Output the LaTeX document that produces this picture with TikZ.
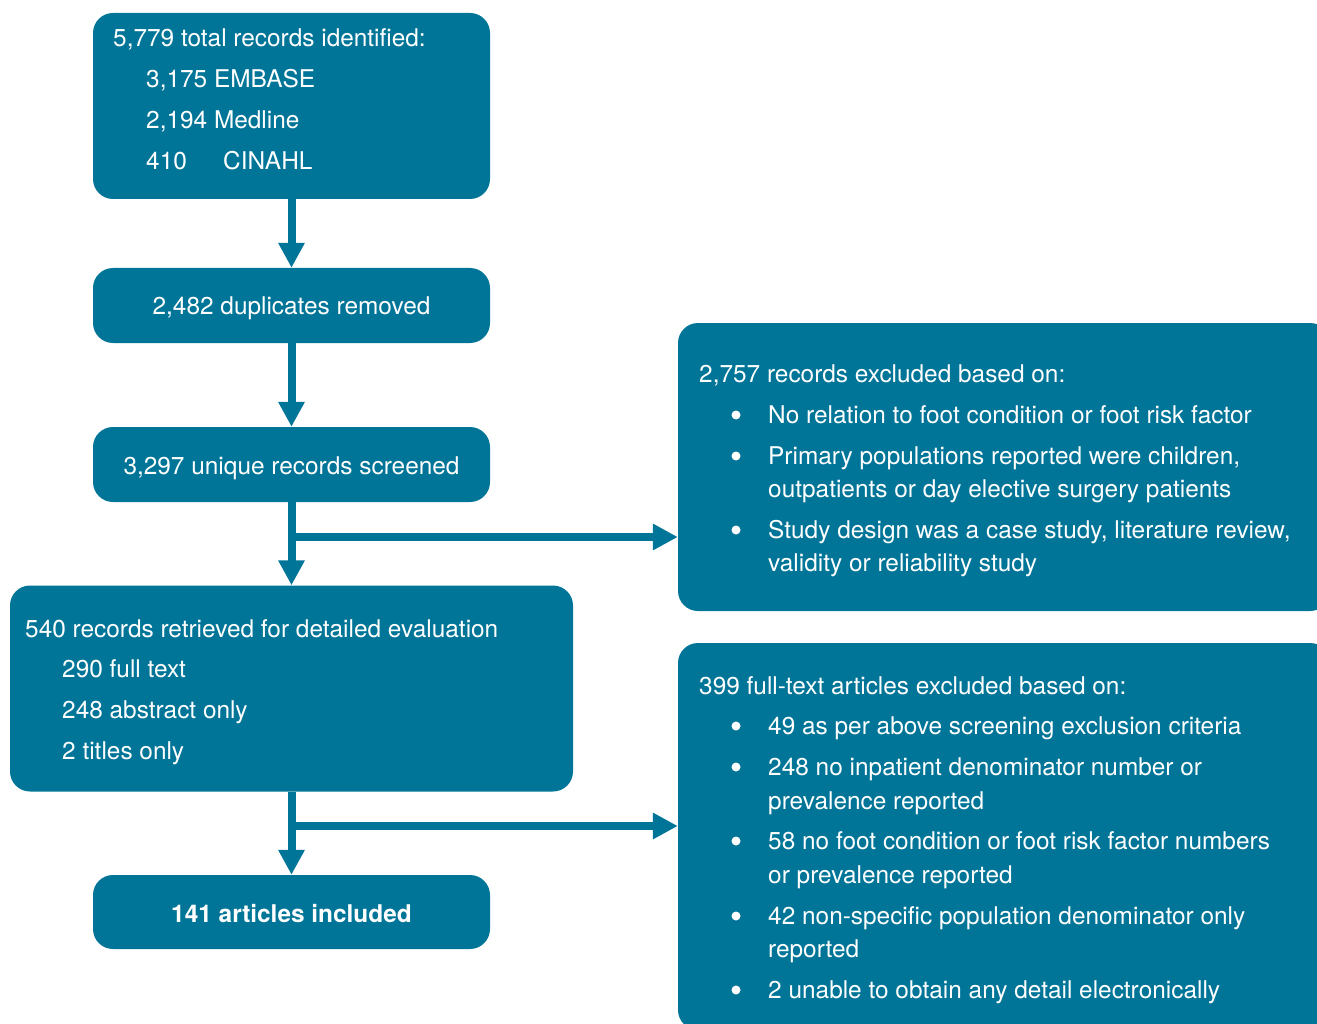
\documentclass[tikz,border=0pt]{standalone}
\usepackage{fontspec}
\setmainfont{TeX Gyre Heros}
\usetikzlibrary{arrows.meta}
\definecolor{tealbox}{HTML}{007598}
\begin{document}
\begin{tikzpicture}[x=1pt,y=-1pt,
  box/.style={fill=tealbox, rounded corners=20pt, inner sep=0pt, draw=none},
  txt/.style={text=white, anchor=base west, inner sep=0pt, font=\fontsize{24.4}{29}\selectfont},
  ctxt/.style={txt, anchor=base},
  bul/.style={circle, fill=white, draw=none, minimum size=9pt, inner sep=0pt},
  flow/.style={draw=tealbox, line width=8pt, -{Triangle[length=25pt,width=25pt]}},
]
\useasboundingbox (0,0) rectangle (1317,1024);
\clip (0,0) rectangle (1317,1024);

% boxes
\node[box, minimum width=397pt, minimum height=186pt] (A) at (291.5,106) {};
\node[box, minimum width=397pt, minimum height=75pt] (B) at (291.5,305.5) {};
\node[box, minimum width=397pt, minimum height=75pt] (C) at (291.5,464.5) {};
\node[box, minimum width=563pt, minimum height=206pt] (D) at (291.5,688.5) {};
\node[box, minimum width=397pt, minimum height=74pt] (E) at (291.5,912) {};
\node[box, minimum width=652pt, minimum height=288pt] (R1) at (1004,467) {};
\node[box, minimum width=652pt, minimum height=387pt] (R2) at (1004,836.5) {};

% connectors
\coordinate (j1) at (291.5,537);
\coordinate (j2) at (291.5,826);
\draw[flow] (A.south) -- (B.north);
\draw[flow] (B.south) -- (C.north);
\draw[flow] (C.south) -- (D.north);
\draw[flow] (D.south) -- (E.north);
\draw[flow] (j1) -- (j1 -| R1.west);
\draw[flow] (j2) -- (j2 -| R2.west);

% box A text
\node[txt] (a1) at (113,47) {5,779 total records identified:};
\node[txt] (a2) at (146,88) {3,175 EMBASE};
\node[txt] (a3) at (146,129) {2,194 Medline};
\node[txt] (a4) at (146,170) {410};
\node[txt] (a5) at (223,170) {CINAHL};

% box B, C, E text
\node[ctxt] (b1) at (291.5,315) {2,482 duplicates removed};
\node[ctxt] (c1) at (291.5,474) {3,297 unique records screened};
\node[ctxt, font=\fontsize{24.4}{29}\selectfont\bfseries] (e1) at (291.5,922) {141 articles included};

% box D text
\node[txt] (d1) at (25,637) {540 records retrieved for detailed evaluation};
\node[txt] (d2) at (62,677) {290 full text};
\node[txt] (d3) at (62,718) {248 abstract only};
\node[txt] (d4) at (62,759) {2 titles only};

% right box 1
\node[txt] (r1h) at (699,382) {2,757 records excluded based on:};
\node[bul] (r1b1) at (736,415) {};
\node[txt] (r1t1) at (768,423) {No relation to foot condition or foot risk factor};
\node[bul] (r1b2) at (736,456) {};
\node[txt] (r1t2) at (768,464) {Primary populations reported were children,};
\node[txt] (r1t2b) at (768,497) {outpatients or day elective surgery patients};
\node[bul] (r1b3) at (736,530) {};
\node[txt] (r1t3) at (768,538) {Study design was a case study, literature review,};
\node[txt] (r1t3b) at (768,571) {validity or reliability study};

% right box 2
\node[txt] (r2h) at (699,694) {399 full-text articles excluded based on:};
\node[bul] (r2b1) at (736,726) {};
\node[txt] (r2t1) at (768,734) {49 as per above screening exclusion criteria};
\node[bul] (r2b2) at (736,767) {};
\node[txt] (r2t2) at (768,775) {248 no inpatient denominator number or};
\node[txt] (r2t2b) at (768,809) {prevalence reported};
\node[bul] (r2b3) at (736,841) {};
\node[txt] (r2t3) at (768,849) {58 no foot condition or foot risk factor numbers};
\node[txt] (r2t3b) at (768,883) {or prevalence reported};
\node[bul] (r2b4) at (736,916) {};
\node[txt] (r2t4) at (768,924) {42 non-specific population denominator only};
\node[txt] (r2t4b) at (768,957) {reported};
\node[bul] (r2b5) at (736,990) {};
\node[txt] (r2t5) at (768,998) {2 unable to obtain any detail electronically};
\end{tikzpicture}
\end{document}
